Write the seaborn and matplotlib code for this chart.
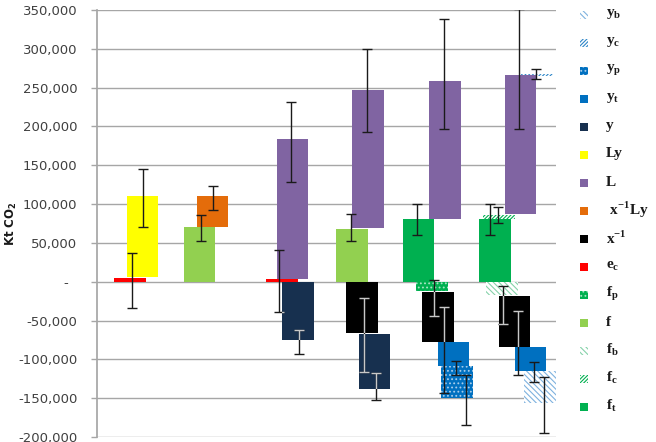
import matplotlib
matplotlib.use('Agg')
import matplotlib.pyplot as plt
from matplotlib.patches import Rectangle
from matplotlib.ticker import FuncFormatter, MultipleLocator
import seaborn as sns

# legend order (top to bottom)
series_names = ['y_b', 'y_c', 'y_p', 'y_t', 'y', 'Ly', 'L', 'x^-1Ly', 'x^-1',
                'e_c', 'f_p', 'f', 'f_b', 'f_c', 'f_t']
legend_labels = [r'y$_\mathregular{b}$', r'y$_\mathregular{c}$', r'y$_\mathregular{p}$',
                 r'y$_\mathregular{t}$', 'y', 'Ly', 'L', r' x$^\mathregular{-1}$Ly',
                 r'x$^\mathregular{-1}$', r'e$_\mathregular{c}$', r'f$_\mathregular{p}$',
                 'f', r'f$_\mathregular{b}$', r'f$_\mathregular{c}$', r'f$_\mathregular{t}$']

# floating bars, kt CO2 (bottom / top of each bar, whisker ends)
bar_series = ['e_c', 'Ly',
              'f', 'x^-1Ly',
              'L', 'e_c', 'y',
              'f', 'L', 'x^-1', 'y',
              'f_t', 'L', 'f_p', 'x^-1', 'y_t', 'y_p',
              'f_t', 'f_c', 'y_c', 'L', 'f_b', 'x^-1', 'y_t', 'y_b']
bar_low = [0, 5500,
           0, 70000,
           3500, 0, -75000,
           0, 68600, -66000, -137700,
           0, 81000, -12000, -78000, -109000, -150000,
           0, 81000, 265500, 87500, -17600, -84000, -114500, -156000]
bar_high = [4500, 110000,
            70000, 110000,
            184000, 4000, 0,
            68000, 246700, 0, -67000,
            81000, 258000, 0, -12900, -78000, -109000,
            81000, 86500, 268000, 266000, 0, -18000, -84000, -114500]
err_low = [-33500, 70800,
           52000, 92700,
           129000, -39500, -93500,
           53000, 193500, -116000, -151900,
           60500, 197000, -43800, -143000, -120000, -185000,
           60500, 76000, 261000, 197000, -54000, -120600, -129000, -195000]
err_high = [37000, 145000,
            86000, 123500,
            231000, 40800, -61800,
            87000, 300000, -21500, -117500,
            100000, 339000, 1700, -32000, -102000, -120000,
            100000, 96000, 274000, 351000, -6000, -38000, -103000, -123000]

# layout: horizontal placement of bars / whiskers (axis units)
bar_x = [33, 45.5,
         102.5, 115.5,
         195.5, 185, 200.8,
         255.2, 270.8, 265, 277.7,
         321.5, 348, 335.2, 341, 356.5, 360,
         398, 402, 440, 423.5, 405, 417.5, 433.5, 443]
err_x = [35, 45.7,
         103.7, 116.3,
         194, 182.3, 202,
         253.7, 269.7, 267.3, 279,
         320, 347.3, 337.3, 347.3, 359, 369.3,
         393, 401, 438.7, 422, 405.7, 420.7, 437.3, 447.3]
BAR_W = 31.5

# style per series: face, hatch colour, hatch
styles = {
    'y_b': ('white', '#7FB2DF', '\\' * 6),
    'y_c': ('white', '#2E86C8', '/' * 9),
    'y_p': ('#0070C0', '#A8CDEB', '....'),
    'y_t': ('#0070C0', None, None),
    'y': ('#17304F', None, None),
    'Ly': ('#FFFF00', None, None),
    'L': ('#8064A2', None, None),
    'x^-1Ly': ('#E46C0A', None, None),
    'x^-1': ('#000000', None, None),
    'e_c': ('#FF0000', None, None),
    'f_p': ('#00B050', '#A8E6C4', '....'),
    'f': ('#92D050', None, None),
    'f_b': ('white', '#86D2AA', '\\' * 6),
    'f_c': ('white', '#00B050', '/' * 9),
    'f_t': ('#00B050', None, None),
}
dark_series = {'x^-1', 'y'}


def fmt_kt(v, pos):
    return '-  ' if abs(v) < 1 else f'{v:,.0f}'


def main():
    sns.set_theme(style='white')
    plt.rcParams['font.family'] = ['DejaVu Sans']
    plt.rcParams['hatch.linewidth'] = 0.8

    fig = plt.figure(figsize=(6.56, 4.42), dpi=100)
    ax = fig.add_axes([97 / 656, 1 - 437 / 442, 459 / 656, 427 / 442])

    dark_patches = []
    for s, lo, hi, x in zip(bar_series, bar_low, bar_high, bar_x):
        face, hcol, hatch = styles[s]
        if hatch:
            p = ax.bar(x, hi - lo, bottom=lo, width=BAR_W, color=face,
                       edgecolor=hcol, linewidth=0, hatch=hatch, zorder=2)
        else:
            p = ax.bar(x, hi - lo, bottom=lo, width=BAR_W, color=face,
                       linewidth=0, zorder=2)
        if s in dark_series:
            dark_patches.append(p.patches[0])

    mids = [(a + b) / 2 for a, b in zip(err_low, err_high)]
    yerr = [[m - a for m, a in zip(mids, err_low)], [b - m for m, b in zip(mids, err_high)]]

    def whiskers(color, clip=None):
        eb = ax.errorbar(err_x, mids, yerr=yerr, fmt='none', ecolor=color,
                         elinewidth=1, capsize=3.6, capthick=1, zorder=5)
        if clip is not None:
            for art in list(eb.lines[1]) + list(eb.lines[2]):
                art.set_clip_path(clip)

    whiskers('#1A1A1A')
    # whiskers look pale where they cross dark bars
    for p in dark_patches:
        whiskers('#C8C8C8', clip=p)

    ax.set_xlim(0, 459)
    ax.set_ylim(-200000, 350000)
    ax.yaxis.set_major_locator(MultipleLocator(50000))
    ax.yaxis.set_major_formatter(FuncFormatter(fmt_kt))
    ax.set_xticks([])
    ax.yaxis.grid(True, color='#A6A6A6', linewidth=1)
    ax.set_axisbelow(True)
    ax.tick_params(axis='y', length=4, width=1, color='#A6A6A6', pad=10,
                   labelsize=9.5, labelcolor='#404040', left=True)
    sns.despine(ax=ax, top=True, right=True, bottom=True)
    ax.spines['left'].set_color('#A6A6A6')

    ax.set_ylabel(r'Kt CO$_\mathregular{2}$', fontsize=8.5, fontweight='bold', color='#1A1A1A')
    ax.yaxis.set_label_coords(-0.17, 0.50)

    # legend on the right
    for i, (s, lab) in enumerate(zip(series_names, legend_labels)):
        face, hcol, hatch = styles[s]
        py = 15 + 28 * i
        fx, fy = 580 / 656, 1 - (py + 4) / 442
        kw = dict(transform=fig.transFigure, linewidth=0, facecolor=face)
        if hatch:
            kw.update(edgecolor=hcol, hatch=hatch)
        fig.add_artist(Rectangle((fx, fy), 8 / 656, 8 / 442, **kw))
        fig.text(606 / 656, 1 - (py - 1) / 442, lab, fontsize=11,
                 fontfamily='Liberation Serif', fontweight='bold',
                 va='center', ha='left', color='#1A1A1A')

    fig.savefig('out.png', dpi=100)


if __name__ == '__main__':
    main()
